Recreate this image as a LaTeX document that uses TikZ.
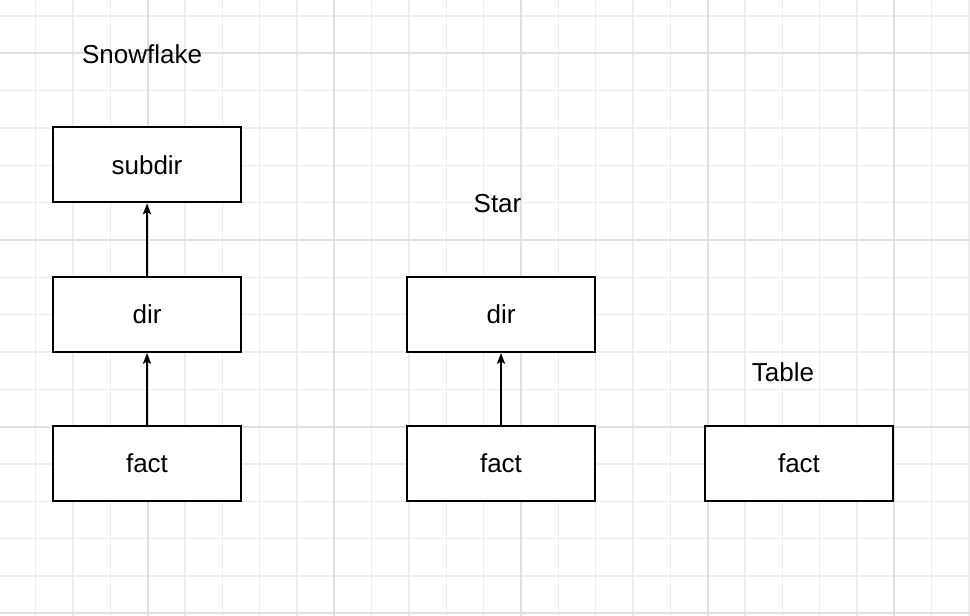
\documentclass[tikz,border=0pt]{standalone}
\usepackage{fontspec}
\setmainfont{Liberation Sans}
\usetikzlibrary{arrows.meta}
\definecolor{gridminor}{HTML}{EDEDED}
\definecolor{gridmajor}{HTML}{E0E0E0}
\tikzset{
  box/.style={draw=black, line width=1.5pt, fill=white, minimum width=141pt, minimum height=56.25pt, inner sep=0pt, text height=14pt, text depth=0pt},
  lbl/.style={inner sep=0pt, anchor=base},
  conn/.style={line width=1.4pt, -{Stealth[length=8pt,width=6pt,inset=1.5pt]}},
}
\begin{document}
\begin{tikzpicture}[x=0.75pt,y=-0.75pt,font=\fontsize{19.5}{22}\selectfont]
\useasboundingbox (0,0) rectangle (970,616);
\fill[white] (0,0) rectangle (970,616);
% grid
\foreach \i in {0,...,26} \draw[gridminor, line width=1.1pt] ({-1.667+37.333*\i},0) -- ++(0,616);
\foreach \j in {0,...,16} \draw[gridminor, line width=1.1pt] (0,{16+37.333*\j}) -- ++(970,0);
\foreach \i in {0,...,4} \draw[gridmajor, line width=1.5pt] ({147.667+186.667*\i},0) -- ++(0,616);
\foreach \j in {0,...,3} \draw[gridmajor, line width=1.5pt] (0,{53.333+186.667*\j}) -- ++(970,0);
% titles
\node[lbl] (tsnow) at (142,64) {Snowflake};
\node[lbl] (tstar) at (497.5,213) {Star};
\node[lbl] (ttable) at (783,381) {Table};
% snowflake
\node[box] (subdir) at (147,165) {subdir};
\node[box] (sdir) at (147,314.5) {dir};
\node[box] (sfact) at (147,463.5) {fact};
% star
\node[box] (stdir) at (501,314.5) {dir};
\node[box] (stfact) at (501,463.5) {fact};
% table
\node[box] (tfact) at (799,463.5) {fact};
% connectors
\draw[conn] (sfact) -- (sdir);
\draw[conn] (sdir) -- (subdir);
\draw[conn] (stfact) -- (stdir);
\end{tikzpicture}
\end{document}
